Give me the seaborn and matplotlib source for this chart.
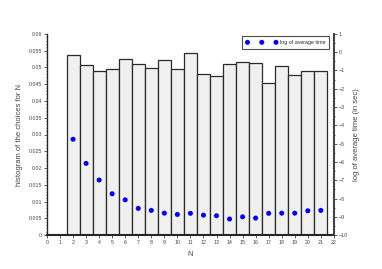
import matplotlib
matplotlib.use("Agg")
import matplotlib.pyplot as plt
import seaborn as sns
import pandas as pd
from matplotlib.ticker import MultipleLocator

# data
n_values = [2, 3, 4, 5, 6, 7, 8, 9, 10, 11, 12, 13, 14, 15, 16, 17, 18, 19, 20, 21]
hist_values = [0.0537, 0.0507, 0.0490, 0.0496, 0.0526, 0.0509, 0.0499, 0.0521,
               0.0496, 0.0542, 0.0479, 0.0474, 0.0511, 0.0515, 0.0512, 0.0453,
               0.0503, 0.0478, 0.0488, 0.0490]
log_time = [-4.76, -6.08, -6.99, -7.74, -8.07, -8.54, -8.65, -8.80, -8.87, -8.81,
            -8.91, -8.94, -9.12, -9.00, -9.07, -8.81, -8.80, -8.80, -8.67, -8.65]

df = pd.DataFrame({"N": n_values, "hist": hist_values, "logt": log_time})

sns.set_style("ticks")
plt.rcParams['font.family'] = ['Liberation Sans', 'DejaVu Sans']

fig = plt.figure(figsize=(3.82, 2.69), dpi=100)
ax = fig.add_axes([0.123, 0.126, 0.751, 0.748])

sns.barplot(data=df, x="N", y="hist", native_scale=True, width=1.0,
            color="#f0f0f0", saturation=1, edgecolor="#2a2a2a", linewidth=0.9, ax=ax)
ax.set_xlim(0, 22)
ax.set_ylim(0, 0.06)
ax.xaxis.set_major_locator(MultipleLocator(1))
ax.yaxis.set_minor_locator(MultipleLocator(0.001))
ax.set_yticks([0, 0.005, 0.01, 0.015, 0.02, 0.025, 0.03, 0.035, 0.04, 0.045, 0.05, 0.055, 0.06])
ax.set_yticklabels(["0", "0.005", "0.01", "0.015", "0.02", "0.025", "0.03", "0.035",
                    "0.04", "0.045", "0.05", "0.055", "0.06"])
ax.tick_params(labelsize=3.8, length=2, width=0.6, pad=1.5, colors="#444")
ax.tick_params(which="minor", length=1, width=0.5)
ax.set_xlabel("N", fontsize=5.5, color="#444", labelpad=4)
ax.set_ylabel("histogram of the choices for N", fontsize=5.5, color="#444", labelpad=4)
ax.spines["top"].set_visible(False)
ax.spines["right"].set_visible(False)
ax.spines["left"].set_linewidth(1.0)
ax.spines["bottom"].set_linewidth(1.5)

ax2 = ax.twinx()
sns.scatterplot(data=df, x="N", y="logt", color="#0000ff", s=13, edgecolor="none",
                label="log of average time", ax=ax2, zorder=5)
ax2.set_ylim(-10, 1)
ax2.yaxis.set_major_locator(MultipleLocator(1))
ax2.yaxis.set_minor_locator(MultipleLocator(0.5))
ax2.tick_params(labelsize=3.8, length=2, width=0.6, pad=1.5, colors="#444")
ax2.tick_params(which="minor", length=1, width=0.5)
ax2.set_ylabel("log of average time (in sec)", fontsize=5.5, color="#444", labelpad=4)
ax2.spines["top"].set_visible(False)
ax2.spines["left"].set_visible(False)
ax2.spines["bottom"].set_visible(False)
ax2.spines["right"].set_linewidth(1.5)
ax2.spines["right"].set_color("#444")

leg = ax2.legend(loc="upper right", scatterpoints=3, scatteryoffsets=[0.5], fontsize=3.8,
                 frameon=True, fancybox=False, edgecolor="#222", borderpad=0.7,
                 handlelength=6.0, handletextpad=0.5, borderaxespad=0.3,
                 bbox_to_anchor=(0.99, 0.995))
leg.get_frame().set_linewidth(0.8)

fig.savefig("out.png", dpi=100)
